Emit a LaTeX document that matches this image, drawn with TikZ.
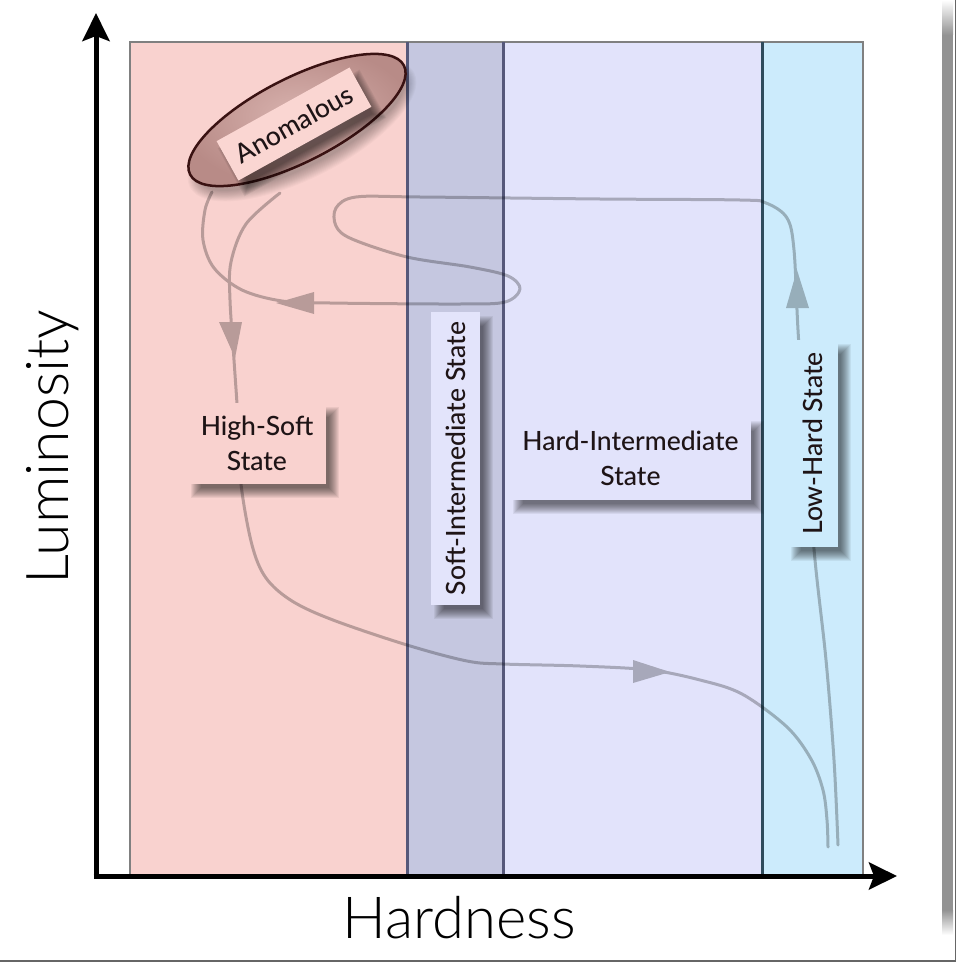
\documentclass[tikz,border=0pt]{standalone}
\usepackage{fontspec}
\IfFontExistsTF{Lato Light}{\newfontfamily\axisfont{Lato Light}}{\newfontfamily\axisfont{Lato}}
\IfFontExistsTF{Lato Medium}{\newfontfamily\labelfont{Lato Medium}}{\newfontfamily\labelfont{Lato}}
\usetikzlibrary{shapes.geometric, arrows.meta}

\definecolor{softband}{HTML}{F9D2CF}
\definecolor{sisband}{HTML}{C5C7E0}
\definecolor{hisband}{HTML}{E2E3FB}
\definecolor{lhband}{HTML}{CCEBFC}
\definecolor{sisline}{HTML}{56587A}
\definecolor{lhline}{HTML}{2F4B5C}
\definecolor{sisbox}{HTML}{E3E4FB}
\definecolor{anomfill}{HTML}{B88B87}
\definecolor{anomlight}{HTML}{D9B3AF}
\definecolor{anomedge}{HTML}{3A1212}
\definecolor{anomlabel}{HTML}{FAD6D2}
\definecolor{labeltext}{HTML}{1E1416}

\tikzset{
  statebox/.style={inner sep=0pt, align=center, text=labeltext,
    font=\labelfont\fontsize{26.5}{35}\selectfont},
  divider/.style={line width=3pt},
  track/.style={line width=3pt, line join=round, line cap=round},
  trackhead/.style={fill=black},
  axisline/.style={line width=5pt, -{Stealth[length=28pt, width=27pt, inset=5pt]}},
}

% soft drop shadow of a w x h box centred at (x,y), turned by an angle;
% it falls 8pt right and 9pt down on the page
\newcommand{\boxshade}[5]{%
  \begin{scope}[shift={(#1+8,#2+9)}, rotate=#5]
    \foreach \r in {-5,...,5}{%
      \pgfmathsetmacro\hw{#3/2+\r}%
      \pgfmathsetmacro\hh{#4/2+\r}%
      \fill[black, opacity=0.06] (-\hw pt,-\hh pt) rectangle (\hw pt,\hh pt);
    }
  \end{scope}}

\begin{document}
\begin{tikzpicture}[x=1pt, y=-1pt]
\useasboundingbox (0,0) rectangle (957,963);

% window edge
\fill[white] (0,0) rectangle (957,963);
\fill[gray!85] (942,35) rectangle (953,910);
\shade[top color=white, bottom color=gray!85] (942,0) rectangle (953,35);
\shade[top color=gray!85, bottom color=white] (942,910) rectangle (953,935);
\draw[black!60, line width=1.5pt] (0,961) -- (955.5,961) -- (955.5,0);

% state bands
\fill[softband] (130,42) rectangle (407,874);
\fill[sisband] (407,42) rectangle (503,874);
\fill[hisband] (503,42) rectangle (762,874);
\fill[lhband] (762,42) rectangle (863,874);
\draw[gray, line width=2pt] (130,874) -- (130,42) -- (863,42) -- (863,874);
\draw[divider, sisline] (407,42) -- (407,874);
\draw[divider, sisline] (503,42) -- (503,874);
\draw[divider, lhline] (762,42) -- (762,874);

% outburst track
\begin{scope}[transparency group, opacity=0.26]
  \draw[track] plot[smooth, tension=0.55] coordinates {
    (838,845) (834,760) (826,660) (815,560) (805,440) (798,330) (794,250)
    (787,218) (766,203) (740,200) (600,199) (420,197) (356,197) (336,208)
    (336,226) (352,239) (407,257) (470,267) (508,276) (520,289) (505,302)
    (460,304) (330,303) (282,301) (242,290) (214,268) (203,240) (205,210) (212,192)};
  \draw[track] plot[smooth, tension=0.55] coordinates {
    (280,193) (246,224) (231,262) (230,300) (234,360) (238,420) (241,484)
    (252,545) (266,578) (292,601) (333,620) (407,645) (467,661) (503,664)
    (580,666) (650,670) (700,680) (742,694) (787,727) (811,759) (823,790)
    (827,820) (828,847)};
  \fill[trackhead] (219,322) -- (242,322) -- (235,358) -- cycle;
  \fill[trackhead] (314,292) -- (314,314) -- (276,303) -- cycle;
  \fill[trackhead] (633,660) -- (633,683) -- (670,672) -- cycle;
  \fill[trackhead] (786,308) -- (809,308) -- (797,270) -- cycle;
\end{scope}

% anomalous state
\begin{scope}[shift={(302,130)}, rotate=27]
  \foreach \r in {-6,...,6}{%
    \pgfmathsetmacro\ea{120+\r}%
    \pgfmathsetmacro\eb{42+\r}%
    \fill[black, opacity=0.022] (0,0) ellipse [x radius=\ea pt, y radius=\eb pt];
  }
\end{scope}
\node[ellipse, draw=anomedge, line width=2.5pt, inner color=anomlight, outer color=anomfill,
      minimum width=240pt, minimum height=84pt, rotate=27] (anom) at (297,120) {};
\boxshade{294}{124}{152}{45}{29}
\node[statebox, fill=anomlabel, rotate=29, minimum width=152pt, minimum height=45pt]
  (anomlbl) at (294,124) {Anomalous};

% state labels
\boxshade{257}{443}{138}{81}{0}
\node[statebox, fill=softband, minimum width=138pt, minimum height=81pt]
  (hs) at (257,443) {High-Soft\\State};
\boxshade{455.5}{458.5}{49}{293}{0}
\node[statebox, fill=sisbox, rotate=90, minimum width=293pt, minimum height=49pt]
  (sis) at (455.5,458.5) {Soft-Intermediate State};
\boxshade{630.5}{458.5}{241}{83}{0}
\node[statebox, fill=hisband, minimum width=241pt, minimum height=83pt]
  (his) at (630.5,458.5) {Hard-Intermediate\\State};
\boxshade{813}{443.5}{50}{207}{0}
\node[statebox, fill=lhband, rotate=90, minimum width=207pt, minimum height=50pt]
  (lhs) at (813,443.5) {Low-Hard State};

% axes
\coordinate (origin) at (96,876);
\coordinate (ytip) at (96,13);
\coordinate (xtip) at (897,876);
\draw[axisline] ([yshift=-2.5pt]origin) -- (ytip);
\draw[axisline] ([xshift=-2.5pt]origin) -- (xtip);
\node[font=\axisfont\fontsize{58}{58}\selectfont, anchor=base] (xlabel) at (459,938) {Hardness};
\node[font=\axisfont\fontsize{59}{59}\selectfont, rotate=90, anchor=base] (ylabel) at (68,447) {Luminosity};
\end{tikzpicture}
\end{document}
